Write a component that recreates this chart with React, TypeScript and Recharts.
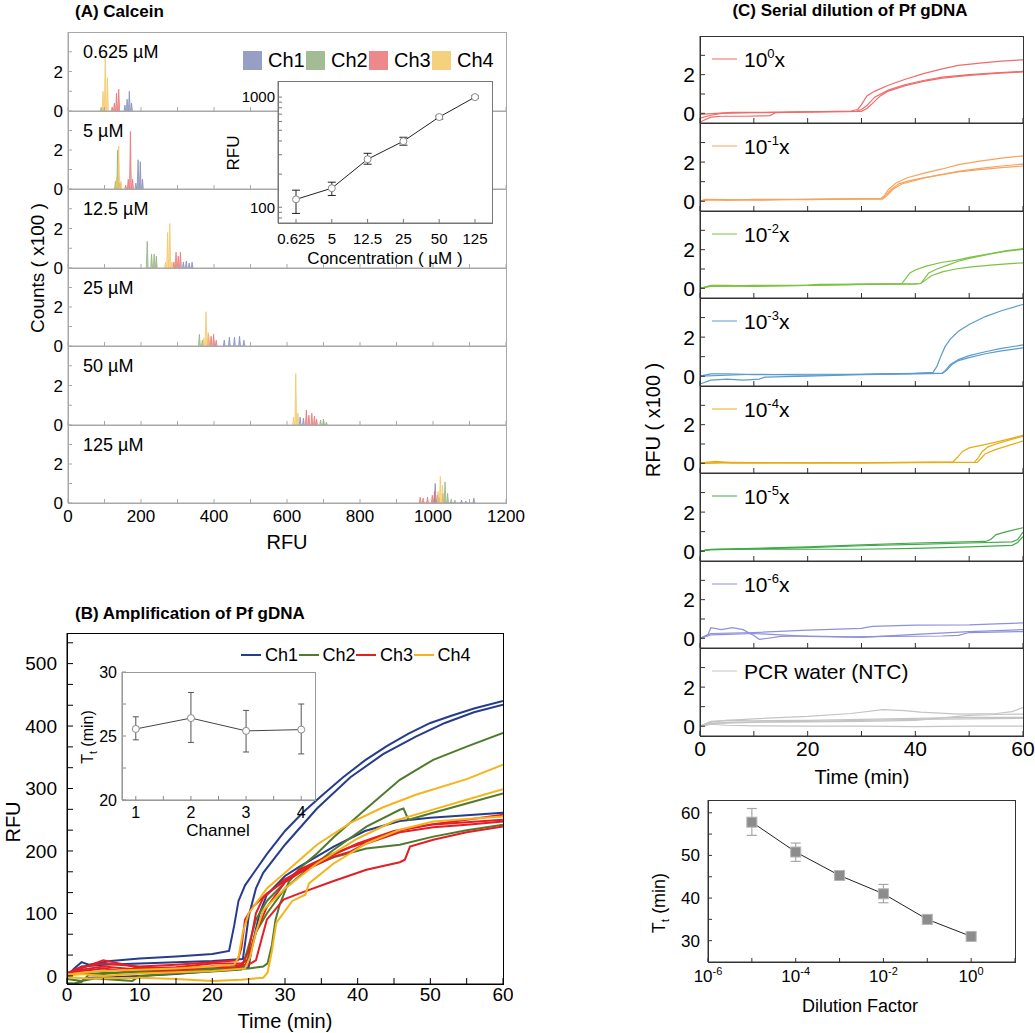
import React from 'react';
import { LineChart, Line, AreaChart, Area, XAxis, YAxis, ErrorBar } from 'recharts';

const FONT = '"Liberation Sans", Arial, Helvetica, sans-serif';

// ---------- (A) Calcein histograms: spikes [RFU, counts x100], order Ch1..Ch4
const concLabels = ['0.625 µM', '5 µM', '12.5 µM', '25 µM', '50 µM', '125 µM'];
const hist0625 = [
  [[156, 0.3], [162, 0.6], [168, 1.0], [174, 0.4]],
  [[91, 0.2], [97, 0.15]],
  [[121, 0.2], [127, 0.4], [133, 0.9], [139, 1.1]],
  [[96, 1.0], [102, 2.8], [108, 1.7]],
];
const hist5 = [
  [[186, 0.3], [192, 1.5], [198, 1.4], [204, 0.5]],
  [[130, 0.4], [136, 2.0], [142, 0.3]],
  [[158, 0.2], [165, 0.5], [171, 2.95], [177, 0.5]],
  [[133, 0.6], [139, 2.2], [145, 0.4]],
];
const hist12_5 = [
  [[316, 0.3], [324, 0.35], [332, 0.25], [340, 0.3]],
  [[217, 1.35], [229, 0.7], [236, 0.7], [242, 0.6]],
  [[290, 0.3], [296, 0.8], [302, 0.6], [308, 0.8]],
  [[267, 0.3], [273, 1.8], [279, 2.25], [285, 0.3]],
];
const hist25 = [
  [[428, 0.3], [442, 0.45], [456, 0.45], [470, 0.5], [482, 0.3]],
  [[360, 0.6], [368, 0.3]],
  [[385, 0.6], [392, 0.5], [399, 0.6], [406, 0.3]],
  [[372, 0.4], [378, 1.76], [384, 0.7]],
];
const hist50 = [
  [[636, 0.4], [645, 0.35]],
  [[692, 0.25], [700, 0.3], [708, 0.15]],
  [[653, 0.76], [660, 0.5], [668, 0.6], [675, 0.45], [681, 0.3]],
  [[618, 0.4], [624, 2.6], [630, 0.6]],
];
const hist125 = [
  [[1006, 1.0], [1012, 0.4], [1078, 0.15], [1090, 0.1], [1112, 0.25]],
  [[1027, 0.5], [1033, 1.08], [1040, 0.5], [1050, 0.2], [1060, 0.15]],
  [[965, 0.3], [973, 0.25], [985, 0.3], [998, 0.4], [1004, 0.6], [1016, 0.3]],
  [[1014, 0.6], [1020, 1.37], [1026, 0.9]],
];
const histAll = [hist0625, hist5, hist12_5, hist25, hist50, hist125];
const chNames = ['Ch1', 'Ch2', 'Ch3', 'Ch4'];
const histColors = ['#7d87b6', '#8dab78', '#ea6b6e', '#f3c45c'];
const rfuTicks = [0, 100, 200, 300, 400, 500, 600, 700, 800, 900, 1000, 1100, 1200];

// inset (A): mean RFU per concentration, errors [minus, plus]
const calceinConc = ['0.625', '5', '12.5', '25', '50', '125'];
const calceinRfu = [118, 149, 273, 398, 659, 1000];
const calceinErr = [[30, 25], [21, 20], [27, 36], [32, 34], [28, 13], [25, 25]];
const logTicks = [80, 90, 100, 200, 300, 400, 500, 600, 700, 800, 900, 1000];

// ---------- (B) amplification curves [time, RFU]
const b1a = [[0, 0], [1, 12], [2, 22], [3, 18], [6, 24], [10, 28], [15, 31], [20, 35], [22.3, 40], [23, 80], [23.6, 120], [24.5, 145], [26, 170], [27.5, 195], [30, 232], [32.5, 262], [35, 288], [38, 318], [41, 345], [44, 368], [47, 388], [50, 405], [53, 417], [56, 428], [60, 440]];
const b1b = [[0, 0], [1, 8], [2, 15], [5, 18], [10, 20], [15, 22], [20, 24], [24.2, 27], [24.6, 60], [25, 95], [26, 140], [27, 165], [30, 210], [34.4, 268], [39, 318], [43.5, 355], [48, 383], [52, 405], [56, 422], [60, 434]];
const b1c = [[0, -12], [1, -13], [2, -8], [3, -3], [6, -2], [10, 0], [15, 3], [20, 8], [23, 10], [25, 14], [25.5, 50], [26.5, 100], [27.5, 130], [30, 160], [32, 175], [36.7, 207], [41, 232], [45.8, 248], [50, 253], [55, 257], [60, 261]];
const b2a = [[0, -12], [1, -12], [2, -10], [3, 2], [5, 5], [10, 6], [15, 8], [20, 10], [25, 12], [27, 15], [27.6, 20], [28.2, 50], [28.7, 90], [29.3, 115], [30.5, 150], [32, 172], [34.4, 196], [36.7, 222], [41.2, 268], [45.8, 314], [50.4, 346], [55, 367], [60, 389]];
const b2b = [[0, 0], [2, 5], [5, 3], [10, 8], [15, 10], [20, 12], [24.5, 15], [25.2, 40], [26, 70], [27.5, 100], [30, 140], [32, 160], [36.7, 202], [41.2, 239], [45.8, 266], [46.3, 268], [47, 250], [50, 260], [55, 276], [60, 292]];
const b2c = [[0, -5], [2, -8], [4, -4], [9, -8], [10, 0], [15, 4], [20, 7], [24, 10], [24.8, 40], [26, 90], [27.5, 120], [30, 150], [32, 168], [36.7, 190], [41.2, 204], [45.8, 210], [50.4, 223], [55, 233], [60, 242]];
const b3a = [[0, 0], [1, 10], [2, 14], [5, 20], [10, 15], [15, 18], [20, 22], [23.5, 25], [24, 45], [24.5, 90], [25, 100], [25.6, 111], [27.5, 132], [30, 152], [32, 170], [36.7, 196], [39, 206], [41.2, 214], [45.8, 233], [50.4, 243], [55, 250], [60, 258]];
const b3b = [[0, 0], [2, 8], [5, 12], [8, 8], [10, 14], [15, 12], [20, 15], [25, 18], [26, 25], [26.8, 60], [27.5, 90], [29.8, 122], [32, 132], [36.7, 152], [41.2, 170], [45.8, 182], [46.5, 186], [47.2, 207], [50.4, 218], [55, 230], [60, 239]];
const b3c = [[0, 5], [2, 12], [5, 25], [8, 18], [10, 12], [15, 14], [20, 20], [24, 20], [25, 26], [26, 70], [27.5, 110], [30, 150], [32, 165], [36.7, 191], [39, 199], [41.2, 212], [45.8, 230], [50.4, 238], [55, 242], [60, 247]];
const b3d = [[0, 3], [2, 10], [5, 15], [10, 10], [15, 8], [20, 15], [23, 12], [24, 15], [25, 40], [26, 100], [27, 125], [30, 155], [35, 185], [40, 212], [45, 232], [50, 242], [55, 246], [60, 250]];
const b4a = [[0, 2], [2, 5], [5, 8], [10, 10], [15, 12], [20, 15], [23, 18], [23.6, 30], [24.2, 70], [25, 100], [27.5, 140], [30, 165], [34.4, 210], [39, 245], [43.5, 270], [48, 290], [55, 315], [60, 338]];
const b4b = [[0, 0], [2, 3], [5, 0], [10, 4], [15, 6], [20, 8], [24.5, 12], [25.2, 30], [26, 70], [27, 105], [30, 140], [34.4, 180], [40, 220], [45, 248], [50, 265], [55, 282], [60, 299]];
const b4c = [[0, -2], [3, -4], [10, -3], [15, -5], [20, -8], [24, -6], [27, -3], [27.6, 5], [28.2, 40], [28.8, 85], [31, 120], [32.8, 130], [33.3, 148], [36.7, 180], [41.2, 212], [45.8, 234], [50.4, 247], [55, 251], [60, 255]];
const ampColors = ['#263c8c', '#4f7b2c', '#e31e24', '#f5b41c'];
const ampSeries = [[b1a, b1b, b1c], [b2a, b2b, b2c], [b3a, b3b, b3c, b3d], [b4a, b4b, b4c]];
const ampYTicks = [0, 33.33, 66.67, 100, 133.33, 166.67, 200, 233.33, 266.67, 300, 333.33, 366.67, 400, 433.33, 466.67, 500, 533.33];
const timeTicksB = [0, 5, 10, 15, 20, 25, 30, 35, 40, 45, 50, 55, 60];

// inset (B): threshold time per channel, errors [minus, plus]
const ttChannels = [1, 2, 3, 4];
const ttValues = [25.55, 26.4, 25.4, 25.5];
const ttErr = [[0.85, 0.95], [1.9, 2.0], [1.65, 1.6], [1.9, 2.0]];

// ---------- (C) serial dilution curves [time, RFU x100]
const c0 = [
  [[0, -0.05], [3, 0.0], [6, 0.05], [12, 0.05], [20, 0.08], [28, 0.12], [29.3, 0.2], [30, 0.45], [31, 0.9], [32.5, 1.15], [35, 1.45], [38, 1.75], [41.5, 2.05], [45, 2.3], [48, 2.48], [52, 2.6], [56, 2.7], [60, 2.77]],
  [[0, -0.25], [2, -0.1], [4, 0], [10, 0.03], [20, 0.08], [29, 0.1], [30, 0.2], [31, 0.4], [32.5, 0.85], [35, 1.2], [38, 1.48], [41.5, 1.7], [45, 1.87], [50, 2.0], [55, 2.1], [60, 2.17]],
  [[0, -0.45], [2, -0.2], [4, -0.15], [8, -0.15], [13, -0.12], [14, 0.03], [20, 0.08], [30, 0.1], [31, 0.25], [32, 0.5], [33.5, 0.9], [35, 1.15], [38, 1.42], [41.5, 1.65], [45, 1.82], [50, 1.96], [55, 2.07], [60, 2.14]],
];
const c1 = [
  [[0, 0], [1, 0.1], [5, 0.08], [10, 0.05], [20, 0.1], [30, 0.12], [33.5, 0.12], [34.3, 0.3], [35, 0.6], [36.5, 0.95], [38.5, 1.2], [41.5, 1.42], [45, 1.65], [48, 1.87], [52, 2.05], [56, 2.2], [60, 2.32]],
  [[0, -0.02], [1, 0.08], [5, 0.05], [10, 0.1], [20, 0.08], [30, 0.12], [33.8, 0.12], [34.5, 0.3], [35.5, 0.6], [37, 0.9], [39, 1.05], [41.5, 1.2], [45, 1.38], [48, 1.53], [52, 1.68], [56, 1.8], [60, 1.9]],
  [[0, 0], [2, 0.08], [5, 0.06], [10, 0.08], [20, 0.1], [30, 0.12], [34, 0.12], [34.8, 0.3], [35.8, 0.6], [37.5, 0.88], [41.5, 1.18], [45, 1.36], [48, 1.5], [52, 1.62], [56, 1.72], [60, 1.8]],
];
const c2 = [
  [[0, 0], [2, 0.15], [5, 0.15], [10, 0.12], [20, 0.15], [22, 0.2], [30, 0.22], [37.5, 0.25], [38.2, 0.5], [39, 0.8], [40, 0.95], [42, 1.15], [45, 1.35], [47.5, 1.45], [50, 1.6], [54, 1.8], [57, 1.95], [60, 2.05]],
  [[0, 0], [2, 0.1], [10, 0.15], [20, 0.15], [30, 0.2], [40, 0.22], [41, 0.25], [41.7, 0.5], [42.5, 0.8], [44, 1.0], [46, 1.2], [48, 1.4], [50, 1.55], [54, 1.78], [57, 1.92], [60, 2.02]],
  [[0, 0], [2, 0.12], [10, 0.1], [20, 0.15], [30, 0.2], [41, 0.25], [42, 0.45], [43, 0.65], [45, 0.85], [47.5, 1.0], [50, 1.1], [54, 1.2], [57, 1.27], [60, 1.32]],
];
const c3 = [
  [[0, 0], [2, 0.12], [5, 0.12], [10, 0.08], [20, 0.1], [30, 0.1], [40, 0.15], [43.3, 0.2], [44, 0.5], [44.7, 1.0], [45.5, 1.5], [46.5, 1.9], [48, 2.3], [50, 2.65], [53, 3.05], [56, 3.35], [60, 3.67]],
  [[0, 0], [5, 0.05], [10, 0.1], [20, 0.05], [30, 0.1], [40, 0.15], [45, 0.15], [45.6, 0.3], [46.5, 0.6], [48, 0.85], [50, 1.05], [53, 1.25], [56, 1.42], [60, 1.6]],
  [[0, -0.4], [2, -0.2], [5, -0.15], [8, -0.2], [11, -0.15], [12, -0.05], [20, 0.0], [30, 0.08], [40, 0.12], [45, 0.15], [45.8, 0.3], [46.8, 0.6], [48, 0.8], [50, 0.95], [53, 1.15], [56, 1.3], [60, 1.45]],
];
const c4 = [
  [[0, 0.02], [3, 0.1], [6, 0.02], [15, 0.03], [30, 0.02], [40, 0.05], [47, 0.08], [47.8, 0.3], [48.7, 0.6], [50, 0.8], [52, 0.92], [55, 1.1], [58, 1.3], [60, 1.45]],
  [[0, 0], [5, 0.05], [20, 0.02], [40, 0.05], [51, 0.06], [51.6, 0.25], [52.4, 0.6], [53.5, 0.85], [55, 1.0], [58, 1.25], [60, 1.4]],
  [[0, 0], [5, 0.03], [20, 0.02], [40, 0.04], [51.5, 0.05], [52.2, 0.25], [53, 0.5], [55, 0.72], [58, 0.98], [60, 1.15]],
];
const c5 = [
  [[0, 0], [2, 0.1], [10, 0.15], [20, 0.22], [30, 0.32], [40, 0.42], [53, 0.5], [54, 0.6], [55, 0.85], [57, 1.0], [60, 1.2]],
  [[0, 0], [2, 0.08], [10, 0.12], [20, 0.18], [30, 0.28], [40, 0.35], [50, 0.42], [58, 0.48], [59, 0.6], [60, 0.98]],
  [[0, 0], [2, 0.08], [10, 0.1], [20, 0.1], [30, 0.1], [40, 0.15], [50, 0.22], [58, 0.3], [59, 0.45], [60, 0.75]],
];
const c6 = [
  [[0, 0], [1.5, 0.2], [2, 0.55], [4, 0.45], [6, 0.55], [8, 0.45], [10, 0.15], [11, -0.05], [12, -0.02], [15, 0.1], [20, 0.12], [28, 0.08], [35, 0.1], [45, 0.12], [48, 0.15], [50, 0.3], [60, 0.35]],
  [[0, 0], [2, 0.25], [10, 0.3], [20, 0.42], [30, 0.52], [32, 0.62], [40, 0.68], [50, 0.7], [55, 0.75], [60, 0.8]],
  [[0, 0], [2, 0.18], [5, 0.2], [10, 0.25], [20, 0.1], [30, 0.05], [40, 0.2], [50, 0.35], [60, 0.45]],
];
const c7 = [
  [[0, 0], [2, 0.2], [5, 0.3], [10, 0.38], [20, 0.5], [28, 0.65], [34, 0.85], [38, 0.8], [41, 0.72], [48, 0.62], [55, 0.65], [58, 0.75], [60, 0.95]],
  [[0, 0], [2, 0.25], [5, 0.3], [10, 0.28], [20, 0.3], [30, 0.35], [40, 0.4], [50, 0.45], [60, 0.45]],
  [[0, 0], [2, 0.15], [5, 0.2], [10, 0.22], [20, 0.25], [30, 0.3], [40, 0.35], [50, 0.38], [60, 0.4]],
  [[0, 0], [2, 0.1], [5, 0.05], [10, 0.02], [20, 0.0], [30, 0.0], [40, -0.02], [50, 0.0], [60, 0.0]],
  [[0, 0], [3, 0.15], [10, 0.2], [20, 0.22], [30, 0.25], [40, 0.3], [50, 0.55], [55, 0.6], [60, 0.62]],
];
const dilCurves = [c0, c1, c2, c3, c4, c5, c6, c7];
const dilExponents = ['0', '-1', '-2', '-3', '-4', '-5', '-6', ''];
const dilColors = ['#f26a6a', '#f7a35e', '#7cc242', '#5b9bcf', '#e9ab14', '#43a94b', '#8d91dd', '#c4c4c4'];

// bottom (C): Tt vs dilution, errors [minus, plus]
const dilFactors = [1e-5, 1e-4, 1e-3, 1e-2, 1e-1, 1];
const dilTt = [57.8, 50.8, 45.3, 41.0, 35.0, 31.0];
const dilErr = [[3.1, 3.2], [2.2, 2.1], [0, 0], [2.1, 2.2], [0, 0], [0, 0]];
const dilTicks = [1e-6, 1e-5, 1e-4, 1e-3, 1e-2, 1e-1, 1, 10];

const toPts = (arr: number[][]) => arr.map(([t, v]) => ({ t, v }));

const spikeSeries = (sp: number[][]) => {
  const pts: { x: number; y: number }[] = [];
  [...sp].sort((a, b) => a[0] - b[0]).forEach(([x, h]) => {
    pts.push({ x: x - 2.5, y: 0 }, { x, y: h }, { x: x + 2.5, y: 0 });
  });
  return pts;
};

function HLabel({ x, y, size, bold, align = 'center', children }: any) {
  const tx = align === 'center' ? '-50%' : '0';
  return (
    <div style={{ position: 'absolute', left: x, top: y, transform: `translate(${tx},-50%)`, fontSize: size, fontWeight: bold ? 700 : 400, whiteSpace: 'nowrap', lineHeight: 1 }}>
      {children}
    </div>
  );
}

function VLabel({ x, y, size, children }: any) {
  return (
    <div style={{ position: 'absolute', left: x, top: y, transform: 'translate(-50%,-50%) rotate(-90deg)', fontSize: size, whiteSpace: 'nowrap', lineHeight: 1 }}>
      {children}
    </div>
  );
}

function Frame({ x, y, w, h, color }: any) {
  return <div style={{ position: 'absolute', left: x, top: y, width: w + 1, height: h + 1, border: `1px solid ${color}`, boxSizing: 'border-box' }} />;
}

function HRule({ x, y, w, color }: any) {
  return <div style={{ position: 'absolute', left: x, top: y, width: w, height: 1, background: color }} />;
}

const Tt = () => (
  <span>T<sub style={{ fontSize: '0.65em', verticalAlign: 'baseline', position: 'relative', top: '0.35em' }}>t</sub> (min)</span>
);

const rowTopsA = [32, 111, 189, 268, 346, 425, 503];
const rowTopsC = [36, 123, 211, 298, 386, 473, 561, 648, 736];

function HistRow({ idx }: { idx: number }) {
  const top = rowTopsA[idx];
  const h = rowTopsA[idx + 1] - top;
  const last = idx === 5;
  const xh = last ? 45 : 1;
  const pad = last ? 0 : 12;
  return (
    <div style={{ position: 'absolute', left: 18, top: top - 12 }}>
      <AreaChart width={508} height={h + xh + 12 + pad} margin={{ top: 12, right: 20, bottom: pad, left: 0 }}>
        <XAxis type="number" dataKey="x" domain={[0, 1200]} ticks={rfuTicks} allowDataOverflow interval={0}
          tickFormatter={(v: number) => (last && v % 200 === 0 ? String(v) : '')}
          height={xh} tickSize={-4} tickMargin={11} stroke="#a8a8a8"
          tick={{ fill: '#000', fontSize: 17 }} />
        <YAxis type="number" domain={[0, 4]} ticks={[0, 1, 2, 3]} allowDataOverflow width={50} interval={0}
          tickFormatter={(v: number) => (v % 2 === 0 ? String(v) : '')}
          tickSize={-4} tickMargin={9} stroke="#a8a8a8" tick={{ fill: '#000', fontSize: 17 }} />
        {histAll[idx].map((ch, i) => (
          <Area key={i} data={spikeSeries(ch)} dataKey="y" type="linear" stroke={histColors[i]} strokeWidth={0.8}
            strokeOpacity={0.9} fill={histColors[i]} fillOpacity={0.55} dot={false} activeDot={false} isAnimationActive={false} />
        ))}
      </AreaChart>
    </div>
  );
}

function DilRow({ idx }: { idx: number }) {
  const top = rowTopsC[idx];
  const h = rowTopsC[idx + 1] - top;
  const last = idx === 7;
  const xh = last ? 40 : 1;
  return (
    <div style={{ position: 'absolute', left: 660, top }}>
      <LineChart width={375} height={h + xh} margin={{ top: 0, right: 12, bottom: 0, left: 0 }}>
        <XAxis type="number" dataKey="t" domain={[0, 60]} ticks={[0, 10, 20, 30, 40, 50, 60]} allowDataOverflow interval={0}
          tickFormatter={(v: number) => (last && v % 20 === 0 ? String(v) : '')}
          height={xh} tickSize={-5} tickMargin={10} stroke="#333"
          tick={{ fill: '#000', fontSize: 21 }} />
        <YAxis type="number" domain={[-0.5, 4]} ticks={[0, 1, 2, 3]} allowDataOverflow width={40} interval={0}
          tickFormatter={(v: number) => (v % 2 === 0 ? String(v) : '')}
          tickSize={-5} tickMargin={10} stroke="#333" tick={{ fill: '#000', fontSize: 21 }} />
        {dilCurves[idx].map((r, i) => (
          <Line key={i} data={toPts(r)} dataKey="v" type="linear" stroke={dilColors[idx]} strokeWidth={1.2}
            dot={false} activeDot={false} isAnimationActive={false} />
        ))}
      </LineChart>
    </div>
  );
}

function DilTick(props: any) {
  const { x, y, payload } = props;
  const e = Math.round(Math.log10(payload.value));
  if (e > 0 || e % 2 !== 0) return <g />;
  return (
    <text x={x} y={y + 14} textAnchor="middle" fontSize={17} fill="#000">
      10<tspan dy={-7} fontSize={11}>{String(e)}</tspan>
    </text>
  );
}

const SquareDot = (p: any) => (
  <rect key={p.index} x={p.cx - 5} y={p.cy - 5} width={10} height={10} fill="#8c8c8c" stroke="#b4b4b4" strokeWidth={1} />
);

export default function App() {
  const calceinRows = calceinConc.map((c, i) => ({ c, v: calceinRfu[i], e: calceinErr[i] }));
  const ttRows = ttChannels.map((c, i) => ({ c, v: ttValues[i], e: ttErr[i] }));
  const dilRows = dilFactors.map((d, i) => ({ d, v: dilTt[i], e: dilErr[i] }));

  return (
    <div style={{ position: 'absolute', left: 0, top: 0, width: 1035, height: 1033, background: '#fff', fontFamily: FONT, color: '#000', overflow: 'hidden' }}>
      {/* (A) Calcein */}
      <HLabel x={75} y={11} size={17} bold align="left">(A) Calcein</HLabel>
      {[0, 1, 2, 3, 4, 5].map((i) => <HistRow key={i} idx={i} />)}
      <Frame x={68} y={32} w={438} h={471} color="#a8a8a8" />
      {rowTopsA.slice(1, 6).map((y) => <HRule key={y} x={68} y={y} w={438} color="#a8a8a8" />)}
      {concLabels.map((l, i) => (
        <HLabel key={l} x={83} y={rowTopsA[i] + 20} size={18} align="left">{l}</HLabel>
      ))}
      {chNames.map((n, i) => (
        <div key={n} style={{ position: 'absolute', left: 243 + i * 63, top: 50, display: 'flex', alignItems: 'center' }}>
          <div style={{ width: 19, height: 19, background: histColors[i], opacity: 0.8 }} />
          <span style={{ fontSize: 20, marginLeft: 6, lineHeight: 1 }}>{n}</span>
        </div>
      ))}
      <HLabel x={287} y={542} size={20}>RFU</HLabel>
      <VLabel x={37} y={268} size={19}>Counts ( x100 )</VLabel>

      {/* (A) inset */}
      <div style={{ position: 'absolute', left: 278, top: 81, width: 214, height: 142, background: '#fff' }} />
      <div style={{ position: 'absolute', left: 228, top: 81 }}>
        <LineChart width={264} height={187} data={calceinRows} margin={{ top: 0, right: 0, bottom: 0, left: 0 }}>
          <XAxis dataKey="c" padding={{ left: 18, right: 17 }} height={45} tickSize={-4} tickMargin={14} stroke="#777"
            tick={{ fill: '#000', fontSize: 15 }} interval={0} />
          <YAxis type="number" scale="log" domain={[72, 1400]} allowDataOverflow ticks={logTicks} width={50} interval={0}
            tickFormatter={(v: number) => (v === 100 || v === 1000 ? String(v) : '')}
            tickSize={-4} tickMargin={7} stroke="#777" tick={{ fill: '#000', fontSize: 15 }} />
          <Line dataKey="v" type="linear" stroke="#222" strokeWidth={1} isAnimationActive={false}
            dot={{ r: 3.5, fill: '#fff', stroke: '#888', strokeWidth: 1 }} activeDot={false}>
            <ErrorBar dataKey="e" width={4} stroke="#222" strokeWidth={1} direction="y" />
          </Line>
        </LineChart>
      </div>
      <Frame x={278} y={81} w={214} h={142} color="#777" />
      <VLabel x={233} y={153} size={17}>RFU</VLabel>
      <HLabel x={385} y={258} size={17}>Concentration ( µM )</HLabel>

      {/* (B) Amplification */}
      <HLabel x={75} y={613} size={17} bold align="left">(B) Amplification of Pf gDNA</HLabel>
      <div style={{ position: 'absolute', left: 12, top: 633 }}>
        <LineChart width={501} height={391} margin={{ top: 0, right: 10, bottom: 0, left: 0 }}>
          <XAxis type="number" dataKey="t" domain={[0, 60]} ticks={timeTicksB} allowDataOverflow interval={0}
            tickFormatter={(v: number) => (v % 10 === 0 ? String(v) : '')}
            height={40} tickSize={-6} tickMargin={10} stroke="#000" tick={{ fill: '#000', fontSize: 19 }} />
          <YAxis type="number" domain={[-13, 549]} ticks={ampYTicks} allowDataOverflow width={55} interval={0}
            tickFormatter={(v: number) => (Number.isInteger(v) && v % 100 === 0 ? String(v) : '')}
            tickSize={-6} tickMargin={16} stroke="#000" tick={{ fill: '#000', fontSize: 19 }} />
          {ampSeries.map((group, gi) =>
            group.map((s, si) => (
              <Line key={`${gi}-${si}`} data={toPts(s)} dataKey="v" type="linear" stroke={ampColors[gi]} strokeWidth={2}
                dot={false} activeDot={false} isAnimationActive={false} />
            )),
          )}
        </LineChart>
      </div>
      <Frame x={67} y={633} w={436} h={351} color="#000" />
      {chNames.map((n, i) => (
        <div key={n} style={{ position: 'absolute', left: 241 + i * 57.5, top: 646, display: 'flex', alignItems: 'center' }}>
          <div style={{ width: 20, height: 2, background: ampColors[i] }} />
          <span style={{ fontSize: 18, marginLeft: 4, lineHeight: 1 }}>{n}</span>
        </div>
      ))}
      <HLabel x={285} y={1021} size={20}>Time (min)</HLabel>
      <VLabel x={13} y={822} size={20}>RFU</VLabel>

      {/* (B) inset */}
      <div style={{ position: 'absolute', left: 82, top: 660 }}>
        <LineChart width={233} height={180} data={ttRows} margin={{ top: 12, right: 0, bottom: 0, left: 0 }}>
          <XAxis type="number" dataKey="c" domain={[0.75, 4.25]} ticks={[1, 1.5, 2, 2.5, 3, 3.5, 4]} allowDataOverflow interval={0}
            tickFormatter={(v: number) => (Number.isInteger(v) ? String(v) : '')}
            height={40} tickSize={-4} tickMargin={11} stroke="#888" tick={{ fill: '#000', fontSize: 16 }} />
          <YAxis type="number" domain={[20, 30]} ticks={[20, 22.5, 25, 27.5, 30]} allowDataOverflow width={40} interval={0}
            tickFormatter={(v: number) => (Number.isInteger(v) ? String(v) : '')}
            tickSize={-4} tickMargin={9} stroke="#888" tick={{ fill: '#000', fontSize: 16 }} />
          <Line dataKey="v" type="linear" stroke="#444" strokeWidth={1} isAnimationActive={false}
            dot={{ r: 3.5, fill: '#fff', stroke: '#888', strokeWidth: 1 }} activeDot={false}>
            <ErrorBar dataKey="e" width={3} stroke="#555" strokeWidth={1} direction="y" />
          </Line>
        </LineChart>
      </div>
      <Frame x={122} y={672} w={193} h={128} color="#999" />
      <VLabel x={88} y={737} size={16}><Tt /></VLabel>
      <HLabel x={218} y={830} size={17}>Channel</HLabel>

      {/* (C) Serial dilution */}
      <HLabel x={850} y={10} size={17} bold>(C) Serial dilution of Pf gDNA</HLabel>
      {[0, 1, 2, 3, 4, 5, 6, 7].map((i) => <DilRow key={i} idx={i} />)}
      <Frame x={700} y={36} w={323} h={700} color="#333" />
      {rowTopsC.slice(1, 8).map((y) => <HRule key={y} x={700} y={y} w={323} color="#333" />)}
      {dilExponents.map((e, i) => (
        <div key={i} style={{ position: 'absolute', left: 712, top: rowTopsC[i] + 23, display: 'flex', alignItems: 'center', transform: 'translateY(-50%)' }}>
          <div style={{ width: 25, height: 1.5, background: dilColors[i] }} />
          <span style={{ fontSize: 21, marginLeft: 7, lineHeight: 1 }}>
            {i < 7 ? (
              <>10<span style={{ fontSize: 13, position: 'relative', top: -9 }}>{e}</span>x</>
            ) : 'PCR water (NTC)'}
          </span>
        </div>
      ))}
      <VLabel x={653} y={420} size={20}>RFU ( x100 )</VLabel>
      <HLabel x={862} y={777} size={20}>Time (min)</HLabel>

      {/* (C) bottom: Tt vs dilution */}
      <div style={{ position: 'absolute', left: 663, top: 800 }}>
        <LineChart width={362} height={202} data={dilRows} margin={{ top: 0, right: 10, bottom: 0, left: 0 }}>
          <XAxis type="number" dataKey="d" scale="log" domain={[1e-6, 10]} ticks={dilTicks} allowDataOverflow
            height={40} tickSize={-4} tickMargin={10} stroke="#333" tick={<DilTick />} interval={0} />
          <YAxis type="number" domain={[25, 63]} ticks={[30, 35, 40, 45, 50, 55, 60]} allowDataOverflow width={45} interval={0}
            tickFormatter={(v: number) => (v % 10 === 0 ? String(v) : '')}
            tickSize={-4} tickMargin={12} stroke="#333" tick={{ fill: '#000', fontSize: 17 }} />
          <Line dataKey="v" type="linear" stroke="#222" strokeWidth={1} isAnimationActive={false} dot={SquareDot} activeDot={false}>
            <ErrorBar dataKey="e" width={5} stroke="#a8a8a8" strokeWidth={1.2} direction="y" />
          </Line>
        </LineChart>
      </div>
      <Frame x={708} y={800} w={307} h={162} color="#333" />
      <VLabel x={659} y={903} size={18}><Tt /></VLabel>
      <HLabel x={860} y={1006} size={18}>Dilution Factor</HLabel>
    </div>
  );
}
